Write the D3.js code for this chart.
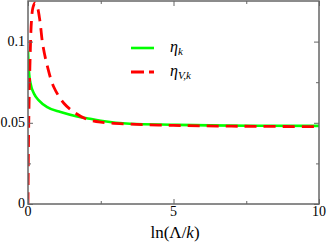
<!DOCTYPE html>
<html><head><meta charset="utf-8">
<script src="https://cdn.jsdelivr.net/npm/d3@7"></script>
<style>body{margin:0;background:#fff}svg{display:block}</style>
</head><body>
<svg id="c" width="327" height="245"></svg>
<script>
const xTicks = [0, 5, 10];
const xTickLabels = ["0", "5", "10"];
const xMinor = [2.5, 7.5];
const yTicks = [0, 0.05, 0.1];
const yTickLabels = ["0", "0.05", "0.1"];
const yMinor = [0.025, 0.075];

const etaX = [0, 0.03, 0.09, 0.21, 0.38, 0.66, 1.12, 1.69, 2.13, 2.5, 3.5, 5, 6.25, 8, 10];
const etaY = [0.0944, 0.082, 0.074, 0.0678, 0.0637, 0.0596, 0.0566, 0.0539, 0.0525, 0.0513, 0.0494, 0.0488, 0.0484, 0.0482, 0.0481];
const etaVX = [0, 0.025, 0.07, 0.12, 0.17, 0.24, 0.31, 0.41, 0.5, 0.66, 0.89, 1.24, 1.58, 1.98, 2.5, 3.5, 5, 6.5, 8, 10];
const etaVY = [0, 0.049, 0.088, 0.113, 0.121, 0.1238, 0.122, 0.1127, 0.099, 0.0852, 0.0719, 0.0619, 0.0566, 0.0525, 0.0504, 0.0492, 0.0484, 0.048, 0.0478, 0.0476];

const L = 28, R = 319, T = 1, B = 204;
const svg = d3.select("#c");
const x = d3.scaleLinear().domain([0, 10]).range([L, R]);
const y = d3.scaleLinear().domain([0, 0.125]).range([B, T]);
const font = "'Liberation Serif', 'DejaVu Serif', serif";
const axisCol = "#666";

svg.append("defs").append("clipPath").attr("id", "clip")
  .append("rect").attr("x", L).attr("y", T).attr("width", R - L).attr("height", B - T);

// curves
const line = d3.line().x(d => x(d[0])).y(d => y(d[1])).curve(d3.curveMonotoneX);
const g = svg.append("g").attr("clip-path", "url(#clip)");
g.append("path").datum(etaX.map((v, i) => [v, etaY[i]]))
  .attr("d", line).attr("fill", "none").attr("stroke", "#00ff00").attr("stroke-width", 2.6);
g.append("path").datum(etaVX.map((v, i) => [v, etaVY[i]]))
  .attr("d", d3.line().x(d => x(d[0])).y(d => y(d[1])).curve(d3.curveCatmullRom.alpha(0.5)))
  .attr("fill", "none").attr("stroke", "#ff0000").attr("stroke-width", 2.8)
  .attr("stroke-dasharray", "12,7");

// frame
svg.append("rect").attr("x", L).attr("y", T).attr("width", R - L).attr("height", B - T)
  .attr("fill", "none").attr("stroke", axisCol).attr("stroke-width", 1.5);

// ticks via axes (inward)
function addAxis(axis, tx, ty) {
  const a = svg.append("g").attr("transform", `translate(${tx},${ty})`).call(axis);
  a.select(".domain").remove();
  a.selectAll("line").attr("stroke", axisCol).attr("stroke-width", 1);
  a.selectAll("text").remove();
}
addAxis(d3.axisBottom(x).tickValues(xTicks).tickSize(-5), 0, B);
addAxis(d3.axisTop(x).tickValues(xTicks).tickSize(-5), 0, T);
addAxis(d3.axisBottom(x).tickValues(xMinor).tickSize(-3), 0, B);
addAxis(d3.axisTop(x).tickValues(xMinor).tickSize(-3), 0, T);
addAxis(d3.axisLeft(y).tickValues(yTicks).tickSize(-5), L, 0);
addAxis(d3.axisRight(y).tickValues(yTicks).tickSize(-5), R, 0);
addAxis(d3.axisLeft(y).tickValues(yMinor).tickSize(-3), L, 0);
addAxis(d3.axisRight(y).tickValues(yMinor).tickSize(-3), R, 0);

// tick labels
svg.append("g").selectAll("text").data(xTicks).join("text")
  .attr("x", d => x(d)).attr("y", 216).attr("text-anchor", "middle")
  .attr("font-family", font).attr("font-size", 14).attr("fill", "#000")
  .text((d, i) => xTickLabels[i]);
svg.append("g").selectAll("text").data(yTicks).join("text")
  .attr("x", 25).attr("y", d => y(d) + 4).attr("text-anchor", "end")
  .attr("font-family", font).attr("font-size", 14).attr("fill", "#000")
  .text((d, i) => yTickLabels[i]);

// x label
const xl = svg.append("text").attr("x", 175).attr("y", 238).attr("text-anchor", "middle")
  .attr("font-family", font).attr("font-size", 17).attr("fill", "#000");
xl.append("tspan").text("ln(Λ/");
xl.append("tspan").attr("font-style", "italic").text("k");
xl.append("tspan").text(")");

// legend
svg.append("line").attr("x1", 131).attr("x2", 154).attr("y1", 48).attr("y2", 48)
  .attr("stroke", "#00ff00").attr("stroke-width", 2.6);
svg.append("line").attr("x1", 131).attr("x2", 154).attr("y1", 72).attr("y2", 72)
  .attr("stroke", "#ff0000").attr("stroke-width", 2.8).attr("stroke-dasharray", "13,5");
const l1 = svg.append("text").attr("x", 170).attr("y", 52).attr("font-family", font)
  .attr("font-size", 16).attr("font-style", "italic").attr("fill", "#000");
l1.append("tspan").text("η");
l1.append("tspan").attr("font-size", 11).attr("dy", 3).text("k");
const l2 = svg.append("text").attr("x", 170).attr("y", 76).attr("font-family", font)
  .attr("font-size", 16).attr("font-style", "italic").attr("fill", "#000");
l2.append("tspan").text("η");
l2.append("tspan").attr("font-size", 11).attr("dy", 3).text("V,k");
</script>
</body></html>
